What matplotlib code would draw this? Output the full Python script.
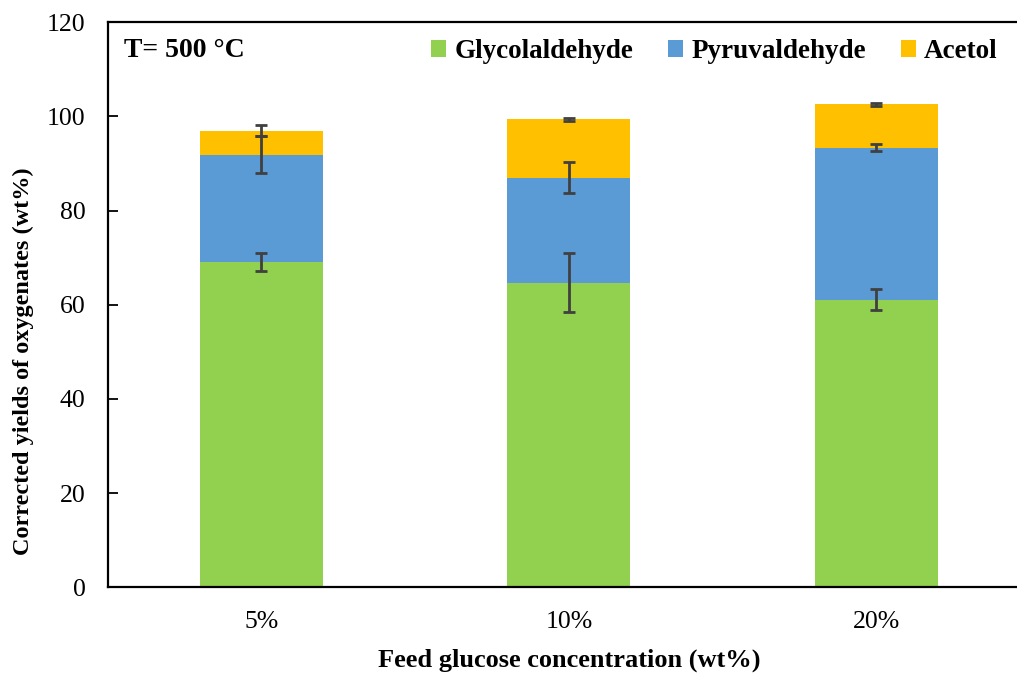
import matplotlib
matplotlib.use("Agg")
import matplotlib.pyplot as plt
import numpy as np

plt.rcParams["font.family"] = ["Liberation Serif", "DejaVu Serif"]

concentrations = ["5%", "10%", "20%"]
glycolaldehyde = [69.1, 64.7, 61.1]
pyruvaldehyde = [22.8, 22.3, 32.3]
acetol = [5.1, 12.4, 9.2]
glycolaldehyde_err = [2.0, 6.2, 2.2]
pyruvaldehyde_err = [4.0, 3.3, 0.8]
acetol_err = [1.2, 0.3, 0.3]

yticks = [0, 20, 40, 60, 80, 100, 120]

colors = {"Glycolaldehyde": "#92d050", "Pyruvaldehyde": "#5b9bd5", "Acetol": "#ffc000"}

fig = plt.figure(figsize=(10.17, 6.75), dpi=100)
ax = fig.add_axes([0.106, 0.130, 0.9066, 0.837])

x = np.arange(len(concentrations))
g = np.array(glycolaldehyde)
p = np.array(pyruvaldehyde)
a = np.array(acetol)
w = 0.4

ax.bar(x, g, w, color=colors["Glycolaldehyde"], label="Glycolaldehyde")
ax.bar(x, p, w, bottom=g, color=colors["Pyruvaldehyde"], label="Pyruvaldehyde")
ax.bar(x, a, w, bottom=g + p, color=colors["Acetol"], label="Acetol")

ekw = dict(fmt="none", ecolor="#404040", elinewidth=2, capsize=4.5, capthick=2)
ax.errorbar(x, g, yerr=glycolaldehyde_err, **ekw)
ax.errorbar(x, g + p, yerr=pyruvaldehyde_err, **ekw)
ax.errorbar(x, g + p + a, yerr=acetol_err, **ekw)

ax.set_xlim(-0.5, 2.5)
ax.set_ylim(0, 120)
ax.set_yticks(yticks)
ax.set_xticks(x)
ax.set_xticklabels(concentrations)
ax.tick_params(axis="y", direction="in", length=7, width=1.3, labelsize=18.5, pad=16)
ax.tick_params(axis="x", length=0, labelsize=18.5, pad=17)
for s in ax.spines.values():
    s.set_linewidth(1.6)

ax.set_ylabel("Corrected yields of oxygenates (wt%)", fontsize=17.5, fontweight="bold")
ax.yaxis.set_label_coords(-0.080, 0.40)
ax.set_xlabel("Feed glucose concentration (wt%)", fontsize=19, fontweight="bold", labelpad=11)

ax.text(0.018, 0.95, "T= 500 °C", transform=ax.transAxes, fontsize=20,
        fontweight="bold", va="center", ha="left")

ax.legend(loc="center right", bbox_to_anchor=(0.977, 0.948), ncol=3, frameon=False,
          prop={"weight": "bold", "size": 19.5}, handlelength=0.55, handleheight=0.55,
          handletextpad=0.3, columnspacing=1.3, borderaxespad=0)

fig.savefig("out.png", dpi=100)
